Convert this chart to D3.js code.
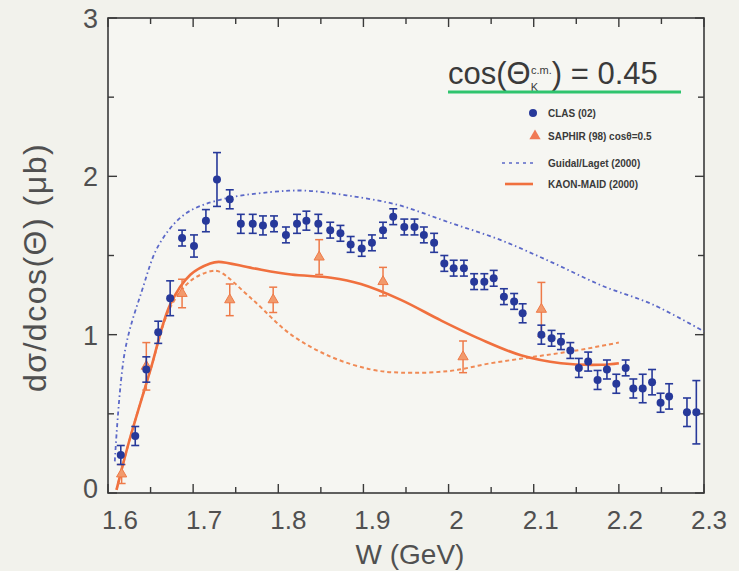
<!DOCTYPE html>
<html>
<head>
<meta charset="utf-8">
<script src="https://cdn.jsdelivr.net/npm/d3@7"></script>
<style>
  body { margin: 0; background: #f2f2ec; }
  svg { display: block; font-family: "Liberation Sans", Arial, sans-serif; }
</style>
</head>
<body>
<div id="chart"></div>
<script>
// CLAS (02) points: W, value, error
const clasW = [1.615, 1.632, 1.645, 1.659, 1.673, 1.687, 1.701, 1.715, 1.728, 1.743,
  1.756, 1.770, 1.782, 1.795, 1.809, 1.822, 1.833, 1.847, 1.861, 1.873,
  1.885, 1.898, 1.910, 1.923, 1.935, 1.948, 1.960, 1.971, 1.983, 1.995,
  2.006, 2.018, 2.030, 2.042, 2.053, 2.065, 2.077, 2.087, 2.109, 2.121,
  2.132, 2.143, 2.153, 2.164, 2.175, 2.186, 2.197, 2.208, 2.217, 2.228,
  2.239, 2.249, 2.259, 2.280, 2.291]
const clasY = [0.24, 0.36, 0.78, 1.015, 1.23, 1.61, 1.56, 1.72, 1.98, 1.855,
  1.70, 1.70, 1.69, 1.70, 1.63, 1.70, 1.72, 1.70, 1.66, 1.64,
  1.57, 1.545, 1.58, 1.66, 1.745, 1.68, 1.68, 1.63, 1.58, 1.45,
  1.42, 1.42, 1.335, 1.335, 1.356, 1.24, 1.21, 1.135, 1.0, 0.977,
  0.956, 0.90, 0.79, 0.83, 0.714, 0.78, 0.69, 0.79, 0.66, 0.66,
  0.70, 0.57, 0.61, 0.51, 0.51]
const clasErr = [0.06, 0.06, 0.08, 0.07, 0.11, 0.05, 0.07, 0.07, 0.17, 0.06,
  0.06, 0.06, 0.06, 0.05, 0.05, 0.06, 0.06, 0.06, 0.05, 0.05,
  0.05, 0.05, 0.05, 0.05, 0.05, 0.05, 0.05, 0.05, 0.06, 0.05,
  0.05, 0.05, 0.05, 0.05, 0.05, 0.05, 0.05, 0.06, 0.06, 0.05,
  0.05, 0.05, 0.06, 0.06, 0.06, 0.06, 0.06, 0.05, 0.06, 0.09,
  0.08, 0.06, 0.08, 0.09, 0.2]

// SAPHIR (98) cos=0.5
const saphirW = [1.616, 1.645, 1.687, 1.743, 1.794, 1.848, 1.923, 2.017, 2.109]
const saphirY = [0.12, 0.80, 1.26, 1.22, 1.22, 1.49, 1.335, 0.86, 1.16]
const saphirErr = [0.06, 0.15, 0.09, 0.1, 0.08, 0.11, 0.09, 0.1, 0.17]

// Guidal/Laget (2000) curve
const guidalW = [1.608, 1.62, 1.64, 1.66, 1.69, 1.73, 1.79, 1.83, 1.88, 1.94, 2.0, 2.06, 2.12, 2.18, 2.24, 2.3]
const guidalY = [0.2, 0.9, 1.28, 1.57, 1.76, 1.85, 1.9, 1.91, 1.88, 1.82, 1.71, 1.6, 1.46, 1.31, 1.19, 1.02]

// KAON-MAID (2000) curve
const maidW = [1.61, 1.625, 1.65, 1.673, 1.697, 1.72, 1.73, 1.77, 1.815, 1.862, 1.897, 1.944, 1.991, 2.038, 2.085, 2.132, 2.18, 2.2]
const maidY = [0.02, 0.33, 0.78, 1.19, 1.38, 1.45, 1.46, 1.42, 1.38, 1.36, 1.32, 1.22, 1.09, 0.97, 0.87, 0.82, 0.81, 0.82]

// second (dashed) orange model curve
const dashW = [1.61, 1.625, 1.65, 1.673, 1.697, 1.72, 1.73, 1.77, 1.815, 1.862, 1.909, 1.944, 2.0, 2.05, 2.1, 2.15, 2.2]
const dashY = [0.02, 0.33, 0.78, 1.17, 1.34, 1.40, 1.40, 1.22, 1.0, 0.86, 0.78, 0.76, 0.77, 0.82, 0.86, 0.90, 0.95]

const xTicks = [1.6, 1.7, 1.8, 1.9, 2, 2.1, 2.2, 2.3]
const yTicks = [0, 1, 2, 3]

const W = 739, H = 571
const margin = {top: 18, right: 35, bottom: 78, left: 108}

const svg = d3.select("#chart").append("svg")
  .attr("width", W).attr("height", H)

svg.append("rect").attr("width", W).attr("height", H).attr("fill", "#f2f2ec")

const x = d3.scaleLinear().domain([1.6, 2.3]).range([margin.left, W - margin.right])
const y = d3.scaleLinear().domain([0, 3]).range([H - margin.bottom, margin.top])

const axisColor = "#3a3a3a"
const labelColor = "#505050"

// frame
svg.append("rect")
  .attr("x", x(1.6)).attr("y", y(3))
  .attr("width", x(2.3) - x(1.6)).attr("height", y(0) - y(3))
  .attr("fill", "#f6f6f2").attr("stroke", axisColor).attr("stroke-width", 1.6)

// inward ticks on all four sides
const xMinor = d3.range(1.6, 2.3001, 0.05)
const yMinor = d3.range(0, 3.001, 0.5)
function isMajor(v, step) { return Math.abs(v / step - Math.round(v / step)) < 1e-6 }

const tickG = svg.append("g").attr("stroke", axisColor).attr("stroke-width", 1.4)
xMinor.forEach(v => {
  const len = isMajor(v, 0.1) ? 9 : 6
  tickG.append("line").attr("x1", x(v)).attr("x2", x(v)).attr("y1", y(0)).attr("y2", y(0) - len)
  tickG.append("line").attr("x1", x(v)).attr("x2", x(v)).attr("y1", y(3)).attr("y2", y(3) + len)
})
yMinor.forEach(v => {
  const len = isMajor(v, 1) ? 9 : 6
  tickG.append("line").attr("x1", x(1.6)).attr("x2", x(1.6) + len).attr("y1", y(v)).attr("y2", y(v))
  tickG.append("line").attr("x1", x(2.3)).attr("x2", x(2.3) - len).attr("y1", y(v)).attr("y2", y(v))
})

// tick labels (the scanned labels sit a little right of their ticks)
svg.append("g").selectAll("text").data(xTicks).enter().append("text")
  .attr("x", d => x(d) + 12 - (d - 1.6) * 10).attr("y", y(0) + 36)
  .attr("text-anchor", "middle")
  .attr("font-size", 26).attr("fill", labelColor)
  .text(d => d)

svg.append("g").selectAll("text").data(yTicks).enter().append("text")
  .attr("x", x(1.6) - 10).attr("y", d => d === 0 ? y(d) + 5 : y(d) + 10)
  .attr("text-anchor", "end")
  .attr("font-size", 27).attr("fill", labelColor)
  .text(d => d)

// axis titles
svg.append("text")
  .attr("x", 410).attr("y", 564)
  .attr("text-anchor", "middle").attr("font-size", 28).attr("fill", labelColor)
  .text("W (GeV)")

svg.append("text")
  .attr("transform", `translate(46, ${(y(0) + y(3)) / 2 + 12}) rotate(-90)`)
  .attr("text-anchor", "middle").attr("font-size", 32).attr("letter-spacing", 1.5)
  .attr("fill", labelColor)
  .text("dσ/dcos(Θ) (μb)")

const line = d3.line().curve(d3.curveCatmullRom.alpha(0.5))

// curves
svg.append("path")
  .attr("d", line(guidalW.map((w, i) => [x(w), y(guidalY[i])])))
  .attr("fill", "none").attr("stroke", "#5b68c8").attr("stroke-width", 1.8)
  .attr("stroke-dasharray", "4,3,1.5,3")

svg.append("path")
  .attr("d", line(dashW.map((w, i) => [x(w), y(dashY[i])])))
  .attr("fill", "none").attr("stroke", "#f08a55").attr("stroke-width", 2)
  .attr("stroke-dasharray", "4,3")

svg.append("path")
  .attr("d", line(maidW.map((w, i) => [x(w), y(maidY[i])])))
  .attr("fill", "none").attr("stroke", "#f0703e").attr("stroke-width", 2.6)

// SAPHIR points
const saphirColor = "#ee7a48"
const sap = svg.append("g").selectAll("g").data(saphirW).enter().append("g")
sap.append("line")
  .attr("x1", d => x(d)).attr("x2", d => x(d))
  .attr("y1", (d, i) => y(saphirY[i] - saphirErr[i])).attr("y2", (d, i) => y(saphirY[i] + saphirErr[i]))
  .attr("stroke", saphirColor).attr("stroke-width", 1.5)
sap.append("line")
  .attr("x1", d => x(d) - 4).attr("x2", d => x(d) + 4)
  .attr("y1", (d, i) => y(saphirY[i] + saphirErr[i])).attr("y2", (d, i) => y(saphirY[i] + saphirErr[i]))
  .attr("stroke", saphirColor).attr("stroke-width", 1.5)
sap.append("line")
  .attr("x1", d => x(d) - 4).attr("x2", d => x(d) + 4)
  .attr("y1", (d, i) => y(saphirY[i] - saphirErr[i])).attr("y2", (d, i) => y(saphirY[i] - saphirErr[i]))
  .attr("stroke", saphirColor).attr("stroke-width", 1.5)
sap.append("path")
  .attr("d", d3.symbol(d3.symbolTriangle, 45))
  .attr("transform", (d, i) => `translate(${x(d)},${y(saphirY[i])})`)
  .attr("fill", "#f29a6c").attr("stroke", saphirColor).attr("stroke-width", 1)

// CLAS points
const clasColor = "#27399a"
const clas = svg.append("g").selectAll("g").data(clasW).enter().append("g")
clas.append("line")
  .attr("x1", d => x(d)).attr("x2", d => x(d))
  .attr("y1", (d, i) => y(clasY[i] - clasErr[i])).attr("y2", (d, i) => y(clasY[i] + clasErr[i]))
  .attr("stroke", clasColor).attr("stroke-width", 1.6)
clas.append("line")
  .attr("x1", d => x(d) - 4).attr("x2", d => x(d) + 4)
  .attr("y1", (d, i) => y(clasY[i] + clasErr[i])).attr("y2", (d, i) => y(clasY[i] + clasErr[i]))
  .attr("stroke", clasColor).attr("stroke-width", 1.6)
clas.append("line")
  .attr("x1", d => x(d) - 4).attr("x2", d => x(d) + 4)
  .attr("y1", (d, i) => y(clasY[i] - clasErr[i])).attr("y2", (d, i) => y(clasY[i] - clasErr[i]))
  .attr("stroke", clasColor).attr("stroke-width", 1.6)
clas.append("circle")
  .attr("cx", d => x(d)).attr("cy", (d, i) => y(clasY[i]))
  .attr("r", 4).attr("fill", clasColor)

// title label with green underline
const title = svg.append("text")
  .attr("x", 448).attr("y", 84).attr("font-size", 31).attr("fill", "#3a3a3a")
title.append("tspan").text("cos(Θ")
title.append("tspan").attr("font-size", 11).attr("dy", 7).text("K")
title.append("tspan").attr("font-size", 11).attr("dx", -7).attr("dy", -17).text("c.m.")
title.append("tspan").attr("dy", 10).text(") = 0.45")
svg.append("line")
  .attr("x1", 448).attr("x2", 681).attr("y1", 92).attr("y2", 92)
  .attr("stroke", "#2fc46e").attr("stroke-width", 3)

// legend
const legG = svg.append("g").attr("font-size", 10).attr("font-weight", "bold").attr("fill", "#3a3a3a")
legG.append("circle").attr("cx", 533).attr("cy", 113).attr("r", 4).attr("fill", clasColor)
legG.append("text").attr("x", 548).attr("y", 117).text("CLAS (02)")
legG.append("path").attr("d", d3.symbol(d3.symbolTriangle, 55))
  .attr("transform", "translate(535,136)").attr("fill", "#f07a55")
legG.append("text").attr("x", 548).attr("y", 140).text("SAPHIR (98) cosθ=0.5")
legG.append("line").attr("x1", 502).attr("x2", 533).attr("y1", 163).attr("y2", 163)
  .attr("stroke", "#5b68c8").attr("stroke-width", 1.6).attr("stroke-dasharray", "3,4")
legG.append("text").attr("x", 548).attr("y", 167).text("Guidal/Laget (2000)")
legG.append("line").attr("x1", 505).attr("x2", 533).attr("y1", 184).attr("y2", 184)
  .attr("stroke", "#f0703e").attr("stroke-width", 2.6)
legG.append("text").attr("x", 548).attr("y", 188).text("KAON-MAID (2000)")
</script>
</body>
</html>
